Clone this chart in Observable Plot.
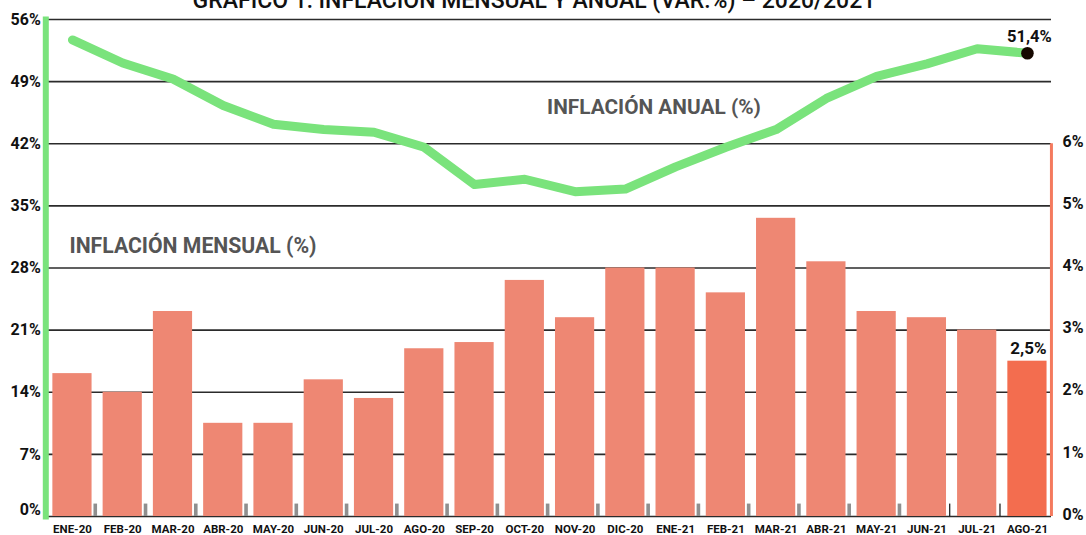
<!DOCTYPE html>
<html>
<head>
<meta charset="utf-8">
<script src="https://cdn.jsdelivr.net/npm/d3@7"></script>
<script src="https://cdn.jsdelivr.net/npm/@observablehq/plot@0.6"></script>
<style>
  html, body { margin: 0; padding: 0; background: #fff; }
  #chart { width: 1086px; height: 535px; overflow: hidden; }
  svg { font-family: Roboto, "Noto Sans", sans-serif; }
</style>
</head>
<body>
<div id="chart"></div>
<script>
// ---- Data ----
const meses = ["ENE-20","FEB-20","MAR-20","ABR-20","MAY-20","JUN-20","JUL-20","AGO-20","SEP-20","OCT-20",
               "NOV-20","DIC-20","ENE-21","FEB-21","MAR-21","ABR-21","MAY-21","JUN-21","JUL-21","AGO-21"];
// Inflación mensual (%), eje derecho
const mensual = [2.3, 2.0, 3.3, 1.5, 1.5, 2.2, 1.9, 2.7, 2.8, 3.8, 3.2, 4.0, 4.0, 3.6, 4.8, 4.1, 3.3, 3.2, 3.0, 2.5];
// Inflación anual (%), eje izquierdo
const anual = [53.7, 51.1, 49.3, 46.3, 44.2, 43.6, 43.3, 41.6, 37.4, 38.0, 36.6, 36.9, 39.4, 41.6, 43.6, 47.1, 49.6, 51.0, 52.7, 52.2];
// Pequeña serie auxiliar (marcas junto a cada barra), eje derecho
const auxiliar = [0.2,0.2,0.2,0.2,0.2,0.2,0.2,0.2,0.2,0.2,0.2,0.2,0.2,0.2,0.2,0.2,0.2,0.2,0.2];
const ticksIzq = [0, 7, 14, 21, 28, 35, 42, 49, 56];
const ticksDer = [0, 1, 2, 3, 4, 5, 6];
const titulo = "GRÁFICO 1: INFLACIÓN MENSUAL Y ANUAL (VAR.%) – 2020/2021";
const etiquetaAnual = "51,4%";
const etiquetaMensual = "2,5%";
const rotuloAnual = "INFLACIÓN ANUAL (%)";
const rotuloMensual = "INFLACIÓN MENSUAL (%)";

// ---- Derived tables ----
const RATIO = 7; // 1% right axis = 7% left axis
const filas = meses.map((m, i) => ({mes: m, mensual: mensual[i], anual: anual[i], i}));
const aux = auxiliar.map((v, i) => ({mes: meses[i], v, i}));
const auxGris = aux.filter(d => d.i < 17);
const auxNegro = aux.filter(d => d.i >= 17);
const ultimo = filas[filas.length - 1];

const GREEN = "#7AE37C";
const BAR = "#EE8773";
const BAR_LAST = "#F36D4F";
const ORANGE = "#F47A5E";

const chart = Plot.plot({
  width: 1086,
  height: 535,
  marginTop: 19,
  marginBottom: 19,
  marginLeft: 41.3,
  marginRight: 28.4,
  style: {fontFamily: "Roboto, 'Noto Sans', sans-serif", background: "#fff", overflow: "visible"},
  x: {domain: meses, padding: 0.22, round: false},
  y: {domain: [0, 56]},
  marks: [
    // gridlines
    Plot.ruleY(ticksIzq, {stroke: "#2b2b2b", strokeWidth: 1.6, insetLeft: 3.7, insetRight: 6.6}),
    // monthly bars
    Plot.barY(filas, {x: "mes", y: d => d.mensual * RATIO,
      fill: d => d.i === filas.length - 1 ? BAR_LAST : BAR}),
    // small aux markers
    Plot.barY(auxGris, {x: "mes", y: d => d.v * RATIO, dx: 23.3, insetLeft: 17.8, insetRight: 17.8,
      fill: "#8f8f8f"}),
    Plot.barY(auxNegro, {x: "mes", y: d => d.v * RATIO, dx: 23.3, insetLeft: 19, insetRight: 19,
      fill: "#111"}),
    // left green axis line
    Plot.frame({anchor: "left", stroke: GREEN, strokeWidth: 6, dx: 4}),
    // right orange axis line
    Plot.ruleX([ultimo], {x: "mes", y1: 0, y2: 6 * RATIO, stroke: ORANGE, strokeWidth: 3, dx: 24}),
    // annual line
    Plot.line(filas, {x: "mes", y: "anual", stroke: GREEN, strokeWidth: 9,
      strokeLinecap: "round", strokeLinejoin: "round"}),
    Plot.dot([ultimo], {x: "mes", y: "anual", r: 6.3, fill: "#160800", stroke: null}),
    Plot.text([ultimo], {x: "mes", y: "anual", text: () => etiquetaAnual, dy: -17, dx: 2,
      fontSize: 16.5, fontWeight: 700, fill: "#111"}),
    Plot.text([ultimo], {x: "mes", y: d => d.mensual * RATIO, text: () => etiquetaMensual, dy: -13, dx: 1,
      fontSize: 17, fontWeight: 700, fill: "#111"}),
    // annotations
    Plot.text([rotuloAnual], {x: () => "NOV-20", y: () => 46.1, text: d => d, textAnchor: "start", dx: -28,
      fontSize: 20.8, fontWeight: 700, fill: "#555"}),
    Plot.text([rotuloMensual], {x: () => "ENE-20", y: () => 30.5, text: d => d, textAnchor: "start", dx: -3,
      fontSize: 21.2, fontWeight: 700, fill: "#555"}),
    // title (cut off at the top, as in the original)
    Plot.text([titulo], {frameAnchor: "top", text: d => d, lineAnchor: "bottom", dy: -12, dx: -16,
      fontSize: 23, fontWeight: 500, fill: "#111"}),
    // axes
    Plot.axisX({tickSize: 0, tickPadding: 8, fontSize: 11.5, fontWeight: 700, fill: "#111", label: null}),
    Plot.axisY(ticksIzq.filter(t => t > 0), {anchor: "left", tickSize: 0, tickPadding: 1,
      tickFormat: d => d + "%", fontSize: 16, fontWeight: 700, fill: "#111", label: null}),
    Plot.axisY([0], {anchor: "left", tickSize: 0, tickPadding: 1, dy: -7,
      tickFormat: d => d + "%", fontSize: 16, fontWeight: 700, fill: "#111", label: null}),
    Plot.axisY(ticksDer.map(t => t * RATIO), {anchor: "right", tickSize: 0, tickPadding: 4.5, dy: -2,
      tickFormat: d => (d / RATIO) + "%", fontSize: 16, fontWeight: 700, fill: "#111", label: null})
  ]
});
document.getElementById("chart").appendChild(chart);
</script>
</body>
</html>
